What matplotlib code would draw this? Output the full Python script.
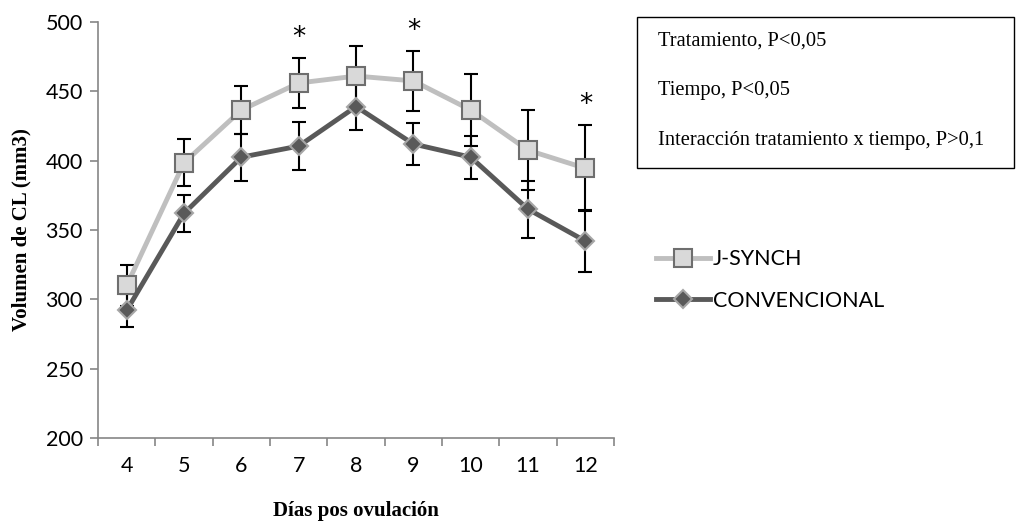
import numpy as np
import matplotlib.pyplot as plt
from matplotlib.patches import Rectangle

# Días pos ovulación
dias = [4, 5, 6, 7, 8, 9, 10, 11, 12]
# Volumen de CL (mm3), mean and error
jsynch = [310, 398.5, 436.5, 456, 461, 457.5, 436.5, 407.5, 394.5]
jsynch_err = [14.5, 17, 17, 18, 22, 21.5, 26, 29, 31]
conv = [292, 362, 402.5, 410.5, 439, 412, 402.5, 365, 342]
conv_err = [12, 13.5, 17, 17.5, 17, 15, 15.5, 20.5, 22.5]
# days with significant difference
signif = [7, 9, 12]

stats_text = ["Tratamiento, P<0,05",
              "Tiempo, P<0,05",
              "Interacción tratamiento x tiempo, P>0,1"]

fig = plt.figure(figsize=(10.17, 5.23), dpi=100)
ax = fig.add_axes([0.0964, 0.1625, 0.5074, 0.7955])

x = np.arange(len(dias))

ax.errorbar(x, jsynch, yerr=jsynch_err, fmt='none', ecolor='black',
            elinewidth=1.5, capsize=5, capthick=1.5, zorder=2)
ax.errorbar(x, conv, yerr=conv_err, fmt='none', ecolor='black',
            elinewidth=1.5, capsize=5, capthick=1.5, zorder=2)

ax.plot(x, jsynch, color='#BFBFBF', linewidth=3.5, marker='s', markersize=12.5,
        markerfacecolor='#D9D9D9', markeredgecolor='#6E6E6E', markeredgewidth=1.5,
        label='J-SYNCH', zorder=3)
ax.plot(x, conv, color='#595959', linewidth=3.5, marker='D', markersize=9,
        markerfacecolor='#595959', markeredgecolor='#A6A6A6', markeredgewidth=1.5,
        label='CONVENCIONAL', zorder=4)

# significance stars
for d in signif:
    i = dias.index(d)
    ax.text(x[i], jsynch[i] + jsynch_err[i] + 5, '*', ha='center', va='bottom',
            fontsize=19, fontfamily='DejaVu Sans')

ax.set_xlim(-0.5, len(dias) - 0.5)
ax.set_ylim(200, 500)
ax.set_yticks(np.arange(200, 501, 50))
ax.set_xticks(x)
ax.set_xticklabels([str(d) for d in dias])
ax.set_xticks(np.arange(-0.5, len(dias), 1), minor=True)

for s in ['top', 'right']:
    ax.spines[s].set_visible(False)
for s in ['left', 'bottom']:
    ax.spines[s].set_color('#868686')
    ax.spines[s].set_linewidth(1.2)

ax.tick_params(axis='x', which='major', length=0, pad=13, labelsize=15.5)
ax.tick_params(axis='x', which='minor', length=6, color='#868686', width=1.2)
ax.tick_params(axis='y', length=6, color='#868686', width=1.2, labelsize=15.5, pad=5)
for lab in ax.get_xticklabels() + ax.get_yticklabels():
    lab.set_fontfamily('Lato')

ax.set_xlabel('Días pos ovulación', fontfamily='Liberation Serif', fontweight='bold',
              fontsize=15, labelpad=18)
ax.set_ylabel('Volumen de CL (mm3)', fontfamily='Liberation Serif', fontweight='bold',
              fontsize=15, labelpad=10)

leg = ax.legend(loc='upper left', bbox_to_anchor=(0.626, 0.56), bbox_transform=fig.transFigure,
                frameon=False, handlelength=2.5, handletextpad=0.15, labelspacing=1.0,
                prop={'family': 'Lato', 'size': 15.5})

# statistics box
fig.patches.append(Rectangle((637 / 1017, 1 - 168 / 523), (1014 - 637) / 1017, (168 - 17) / 523,
                             transform=fig.transFigure, facecolor='none', edgecolor='black',
                             linewidth=1))
for k, t in enumerate(stats_text):
    fig.text(658 / 1017, 1 - (41 + 49.5 * k) / 523, t, fontfamily='Liberation Serif',
             fontsize=14.8, va='center', ha='left')

fig.savefig('out.png', dpi=100)
